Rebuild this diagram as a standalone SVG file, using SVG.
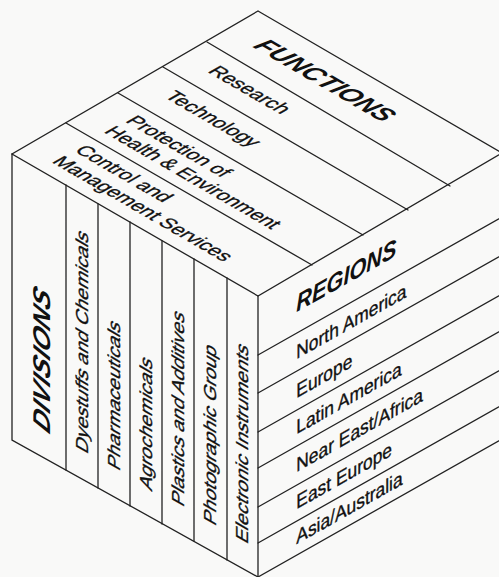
<svg xmlns="http://www.w3.org/2000/svg" width="499" height="577" viewBox="0 0 499 577">
<style>
.ln{stroke:#222;stroke-width:1.3;fill:none;stroke-linecap:round}
.t{font-family:"Liberation Sans",Arial,sans-serif;fill:#111;stroke:#111;stroke-width:0.35;font-size:20px}
.h{font-family:"Liberation Sans",Arial,sans-serif;fill:#111;font-weight:bold;font-style:italic}
</style>
<rect width="499" height="577" fill="#f9f9f8"/>
<g id="connectors">
<path class="ln" d="M258,11 L502,153 M258,11 L12,154 L258,296 L502,153"/>
<path class="ln" d="M12,154 L12,440 L258,577 M258,296 L258,577"/>
<path class="ln" d="M207,42 L450,186 M163,67 L408,210 M118,93 L363,235 M66,123 L312,265"/>
<path class="ln" d="M66,185 L66,470 M98,204 L98,488 M130,222 L130,506 M162,241 L162,524 M194,259 L194,541 M227,278 L227,560"/>
<path class="ln" d="M258,355 L502,217 M258,393 L502,255 M258,432 L502,294 M258,468 L502,330 M258,507 L502,369 M258,543 L502,405 M258,577 L502,439"/>
</g>
<g id="functions" transform="matrix(0.865,0.502,-0.865,0.502,258,11)">
<text class="h" x="32" y="39" font-size="26">FUNCTIONS</text>
<g id="research"><text class="t" x="31" y="90">Research</text></g>
<g id="technology"><text class="t" x="31" y="140">Technology</text></g>
<g id="protection"><text class="t" x="33" y="187">Protection of</text><text class="t" x="31" y="210">Health &amp; Environment</text></g>
<g id="control"><text class="t" x="33" y="246">Control and</text><text class="t" x="31" y="270">Management Services</text></g>
</g>
<g id="divisions">
<text class="h" font-size="28" transform="matrix(0,-1,0.865,0.502,50,435)">DIVISIONS</text>
<g id="dyestuffs"><text class="t" transform="matrix(0,-1,0.865,0.502,88,455)">Dyestuffs and Chemicals</text></g>
<g id="pharmaceuticals"><text class="t" transform="matrix(0,-1,0.865,0.502,120,472)">Pharmaceuticals</text></g>
<g id="agrochemicals"><text class="t" transform="matrix(0,-1,0.865,0.502,152,492)">Agrochemicals</text></g>
<g id="plastics"><text class="t" transform="matrix(0,-1,0.865,0.502,184,508)">Plastics and Additives</text></g>
<g id="photographic"><text class="t" transform="matrix(0,-1,0.865,0.502,216,527)">Photographic Group</text></g>
<g id="electronic"><text class="t" transform="matrix(0,-1,0.865,0.502,248,545)">Electronic Instruments</text></g>
</g>
<g id="regions" transform="matrix(0.870,-0.492,0,1,258,296)">
<text class="h" x="44" y="38" font-size="25">REGIONS</text>
<g id="north-america"><text class="t" x="44" y="85">North America</text></g>
<g id="europe"><text class="t" x="44" y="124">Europe</text></g>
<g id="latin-america"><text class="t" x="44" y="160">Latin America</text></g>
<g id="near-east"><text class="t" x="44" y="198">Near East/Africa</text></g>
<g id="east-europe"><text class="t" x="44" y="235">East Europe</text></g>
<g id="asia"><text class="t" x="44" y="270">Asia/Australia</text></g>
</g>
</svg>
